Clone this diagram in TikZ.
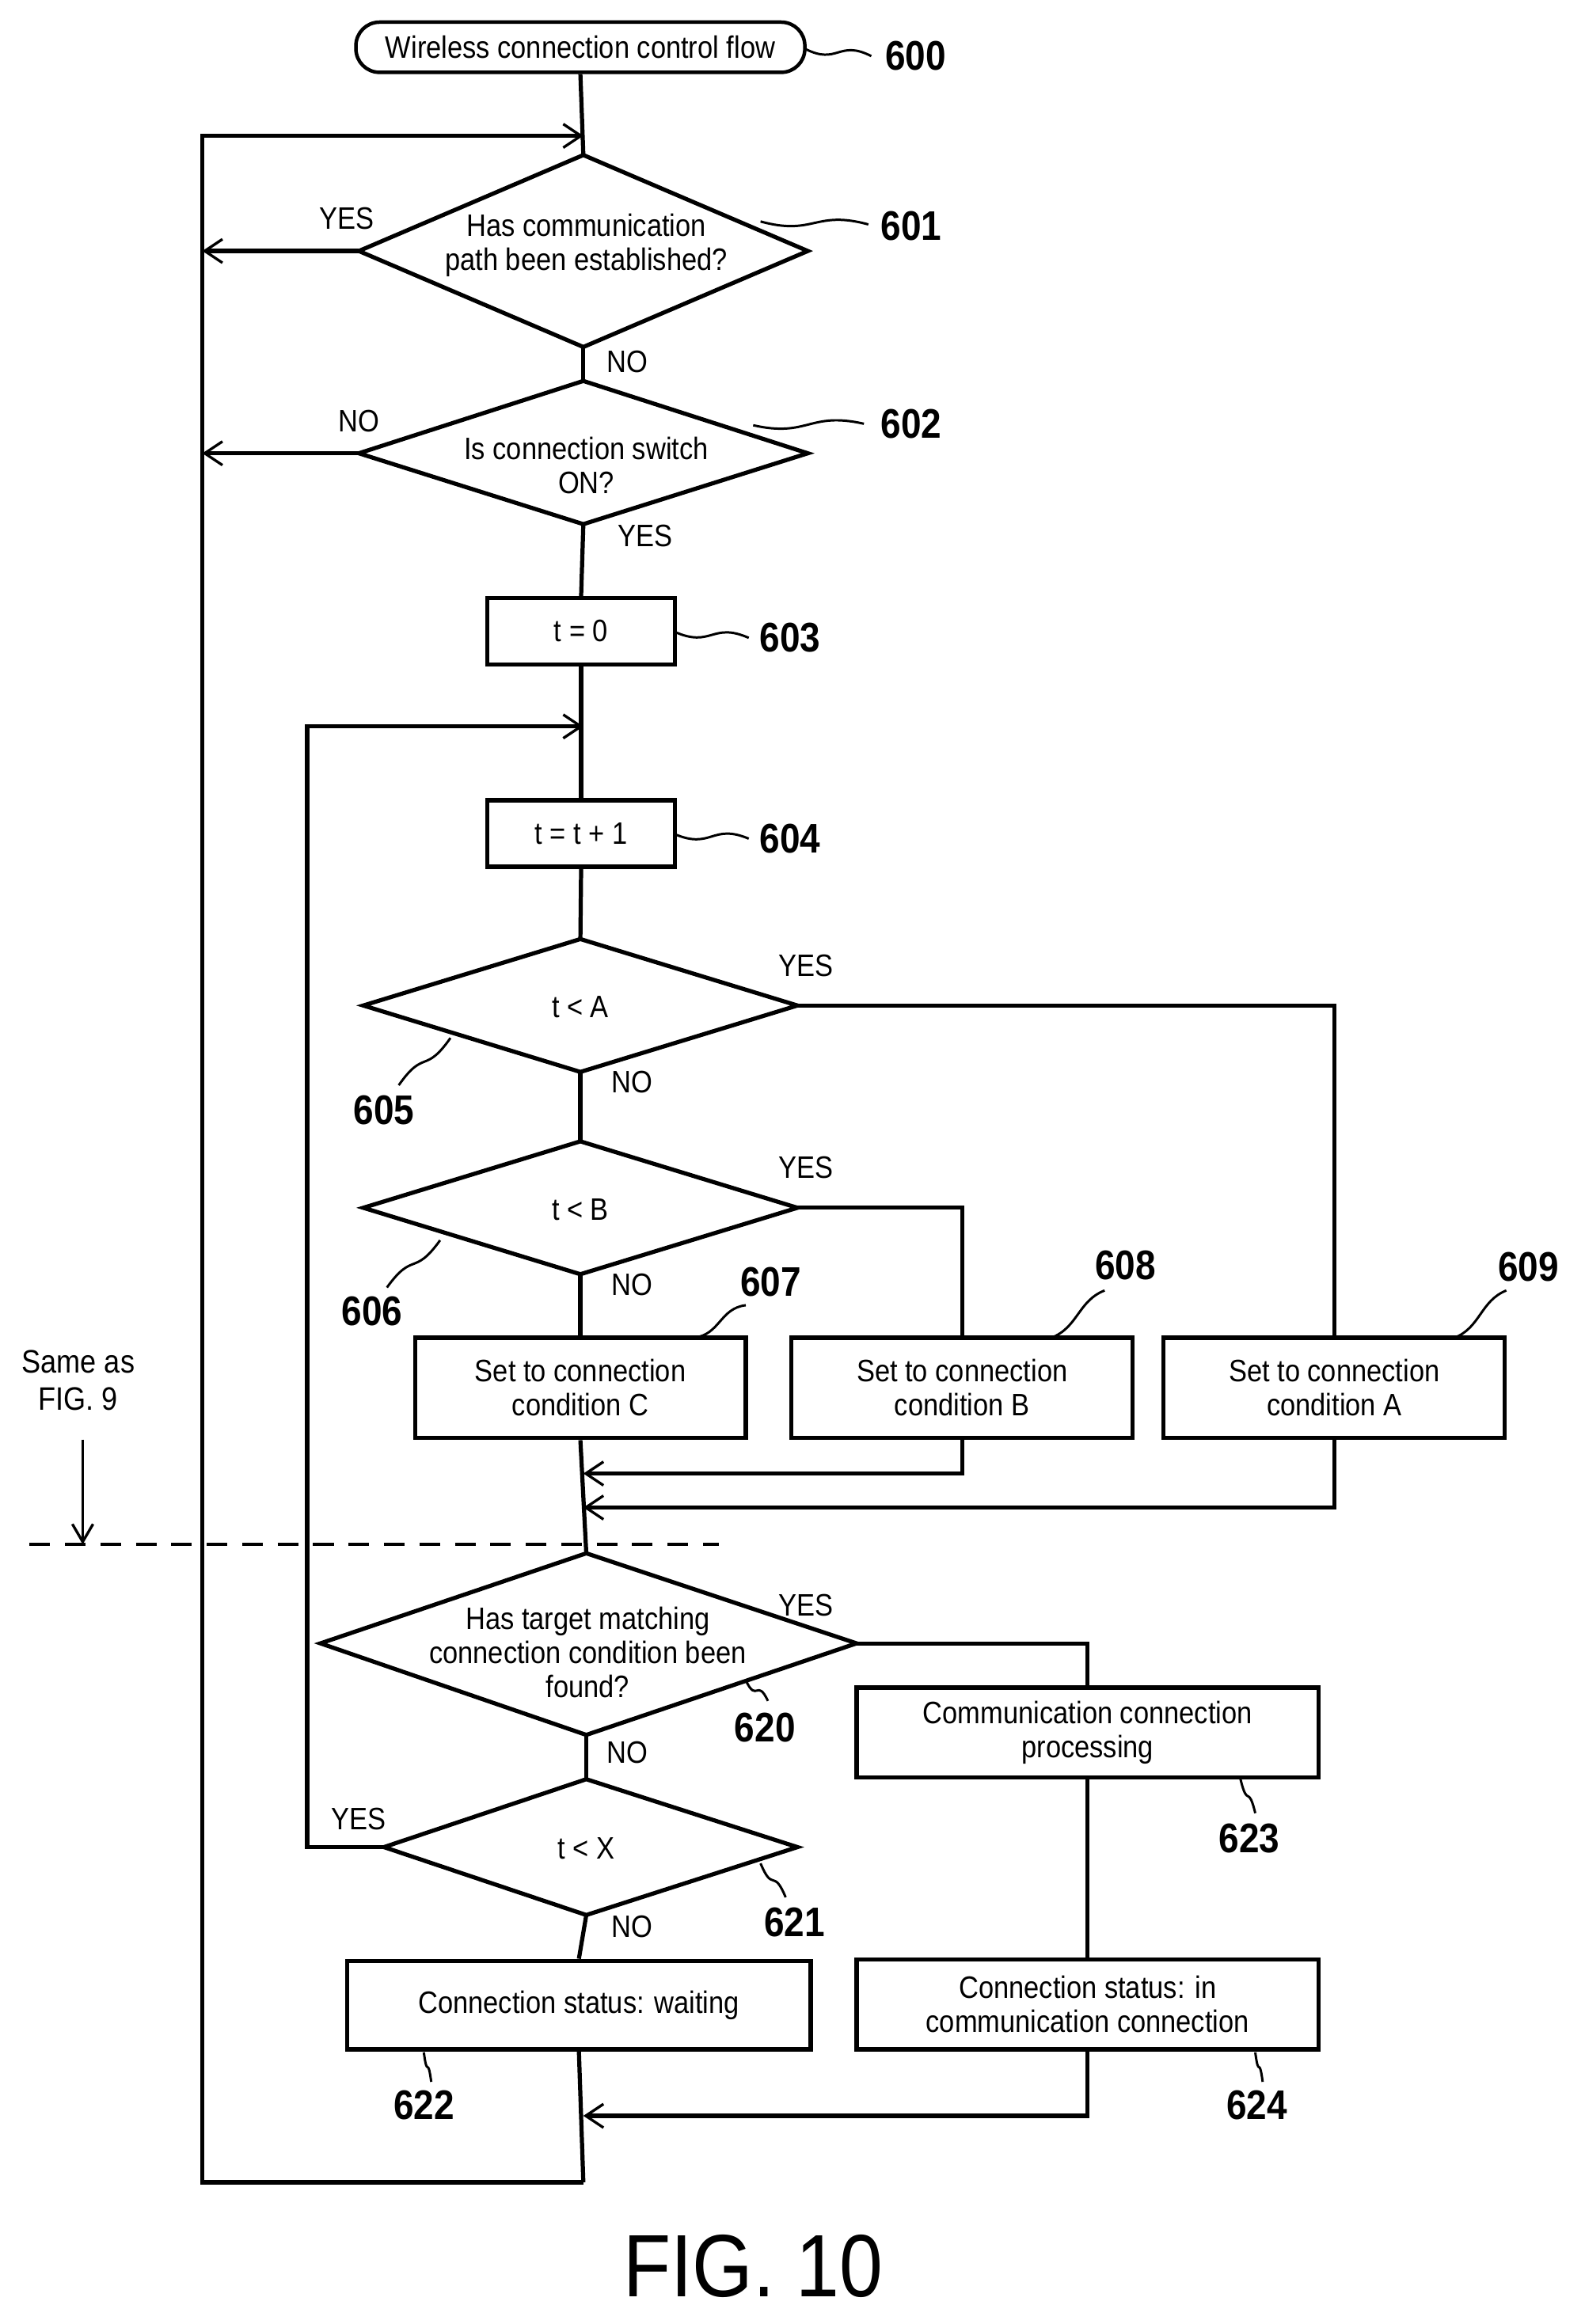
\documentclass[tikz,border=0pt]{standalone}
\usepackage{fontspec}
\setmainfont{Liberation Sans}[FakeStretch=0.88]
\usetikzlibrary{arrows.meta,calc}
\begin{document}
\begin{tikzpicture}[x=0.5pt,y=-0.5pt,
  ln/.style={line width=1.4pt},
  arr/.style={ln,-{Straight Barb[length=6pt,width=8pt,line width=0.9pt]}},
  bx/.style={draw,line width=1.4pt,rectangle,align=center,font=\fontsize{10.5}{11.5}\selectfont,inner sep=0pt},
  tx/.style={align=center,font=\fontsize{10.5}{11.5}\selectfont,inner sep=0pt},
  num/.style={font=\fontsize{14}{14}\bfseries\selectfont,inner sep=0pt},
  sq/.style={line width=0.8pt}]
\useasboundingbox (0,0) rectangle (1073,1574);
\newcommand\sqg[2]{\draw[sq] (#1) .. controls ($(#1)!0.5!(#2)+(0,9)$) and ($(#1)!0.5!(#2)+(0,-9)$) .. (#2);}
% start
\node[draw,line width=1.2pt,rounded corners=8pt,minimum width=152pt,minimum height=17pt,font=\fontsize{10.5}{11.5}\selectfont,inner sep=0pt] (s) at (393,32) {Wireless connection control flow};
\node[num] (n600) at (620,38) {600}; \sqg{545,33}{590,38}
% 601
\draw[ln] (243,170) coordinate (d1l) -- (395,105) coordinate (d1t) -- (547,170) -- (395,235) coordinate (d1b) -- cycle;
\node[tx] (t601) at (397,166) {Has communication\\path been established?};
\node[num] (n601) at (617,153) {601}; \sqg{515,150}{588,152}
\node[tx] (y601) at (235,148) {YES}; \node[tx] (no601) at (425,245) {NO};
% 602
\draw[ln] (243,307) coordinate (d2l) -- (395,258) coordinate (d2t) -- (547,307) -- (395,355) coordinate (d2b) -- cycle;
\node[tx] (t602) at (397,315) {Is connection switch\\ON?};
\node[num] (n602) at (617,287) {602}; \sqg{510,288}{585,287}
\node[tx] (no602) at (243,285) {NO}; \node[tx] (y602) at (437,363) {YES};
% boxes
\node[bx,minimum width=63.5pt,minimum height=22.5pt] (b603) at (393.5,427.5) {t = 0};
\node[num] (n603) at (535,432) {603}; \sqg{457,428}{507,432}
\node[bx,minimum width=63.5pt,minimum height=22.5pt] (b604) at (393.5,564.5) {t = t + 1};
\node[num] (n604) at (535,568) {604}; \sqg{457,565}{507,568}
% 605
\draw[ln] (246,681) coordinate (d5l) -- (393,636) coordinate (d5t) -- (540,681) coordinate (d5r) -- (393,726) coordinate (d5b) -- cycle;
\node[tx] (t605) at (393,682) {t < A};
\node[num] (n605) at (260,752) {605}; \sqg{305,703}{270,735}
\node[tx] (y605) at (546,654) {YES}; \node[tx] (no605) at (428,733) {NO};
% 606
\draw[ln] (246,818) coordinate (d6l) -- (393,773) coordinate (d6t) -- (540,818) coordinate (d6r) -- (393,863) coordinate (d6b) -- cycle;
\node[tx] (t606) at (393,819) {t < B};
\node[num] (n606) at (252,888) {606}; \sqg{298,840}{262,872}
\node[tx] (y606) at (546,791) {YES}; \node[tx] (no606) at (428,870) {NO};
% condition boxes
\node[bx,minimum width=112pt,minimum height=34pt] (bC) at (393,940) {Set to connection\\condition C};
\node[bx,minimum width=115.5pt,minimum height=34pt] (bB) at (651.5,940) {Set to connection\\condition B};
\node[bx,minimum width=115.5pt,minimum height=34pt] (bA) at (903.5,940) {Set to connection\\condition A};
\node[num] (n607) at (522,868) {607}; \sqg{470,906}{505,884}
\node[num] (n608) at (762,857) {608}; \sqg{712,906}{748,874}
\node[num] (n609) at (1035,858) {609}; \sqg{985,906}{1020,874}
% dashed
\draw[line width=1.2pt,dash pattern=on 7pt off 5pt] (20,1046) coordinate (dl) -- (487,1046) coordinate (dr);
\node[tx,font=\fontsize{11}{12.5}\selectfont] (same) at (53,935) {Same as\\FIG. 9};
\coordinate (sa) at (56,975); \coordinate (sb) at (56,1046);
\draw[line width=0.9pt,-{Straight Barb[length=6pt,width=7pt]}] (sa) -- (sb);
% 620
\draw[ln] (217,1113) coordinate (d20l) -- (397,1052) coordinate (d20t) -- (580,1113) coordinate (d20r) -- (397,1175) coordinate (d20b) -- cycle;
\node[tx] (t620) at (398,1119) {Has target matching\\connection condition been\\found?};
\node[num] (n620) at (518,1170) {620}; \sqg{505,1138}{520,1152}
\node[tx] (y620) at (546,1087) {YES}; \node[tx] (no620) at (425,1187) {NO};
% 623
\node[bx,minimum width=156.5pt,minimum height=30.5pt] (b623) at (736.5,1173.5) {Communication connection\\processing};
\node[num] (n623) at (846,1245) {623}; \sqg{840,1205}{850,1228}
% 621
\draw[ln] (260,1251) coordinate (d21l) -- (397,1205) coordinate (d21t) -- (540,1251) -- (397,1297) coordinate (d21b) -- cycle;
\node[tx] (t621) at (397,1252) {t < X};
\node[num] (n621) at (538,1302) {621}; \sqg{515,1262}{532,1285}
\node[tx] (y621) at (243,1232) {YES}; \node[tx] (no621) at (428,1305) {NO};
% 622 624
\node[bx,minimum width=157pt,minimum height=30pt] (b622) at (392,1358) {Connection status: waiting};
\node[num] (n622) at (287,1426) {622}; \sqg{287,1390}{292,1410}
\node[bx,minimum width=156.5pt,minimum height=30.5pt] (b624) at (736.5,1357.5) {Connection status: in\\communication connection};
\node[num] (n624) at (851,1426) {624}; \sqg{850,1390}{855,1410}
\node[font=\fontsize{30}{30}\selectfont,inner sep=0pt] (fig) at (510,1535) {FIG. 10};
% connectors
\coordinate (j92) at (395,92); \coordinate (j492) at (395,492);
\coordinate (j998) at (395,998); \coordinate (j1021) at (395,1021);
\coordinate (j1433) at (395,1433); \coordinate (j1478) at (395,1478);
\draw[ln] (s.south) -- (d1t);
\draw[ln] (d1b) -- (d2t);
\draw[ln] (d2b) -- (b603.north);
\draw[ln] (b603.south) -- (b604.north);
\draw[ln] (b604.south) -- (d5t);
\draw[ln] (d5b) -- (d6t);
\draw[ln] (d6b) -- (bC.north);
\draw[ln] (bC.south) -- (d20t);
\draw[ln] (d20b) -- (d21t);
\draw[ln] (d21b) -- (b622.north);
\draw[ln] (b622.south) -- (j1478);
\draw[arr] (j1478) -- (137,1478) -- (137,92) -- (j92);
\draw[arr] (d1l) -- (137,170);
\draw[arr] (d2l) -- (137,307);
\draw[arr] (d21l) -- (208,1251) -- (208,492) -- (j492);
\draw[ln] (d5r) -- (bA.north |- d5r) -- (bA.north);
\draw[ln] (d6r) -- (bB.north |- d6r) -- (bB.north);
\draw[arr] (bB.south) -- (bB.south |- j998) -- (j998);
\draw[arr] (bA.south) -- (bA.south |- j1021) -- (j1021);
\draw[ln] (d20r) -- (b623.north |- d20r) -- (b623.north);
\draw[ln] (b623.south) -- (b624.north);
\draw[arr] (b624.south) -- (b624.south |- j1433) -- (j1433);
\end{tikzpicture}
\end{document}
